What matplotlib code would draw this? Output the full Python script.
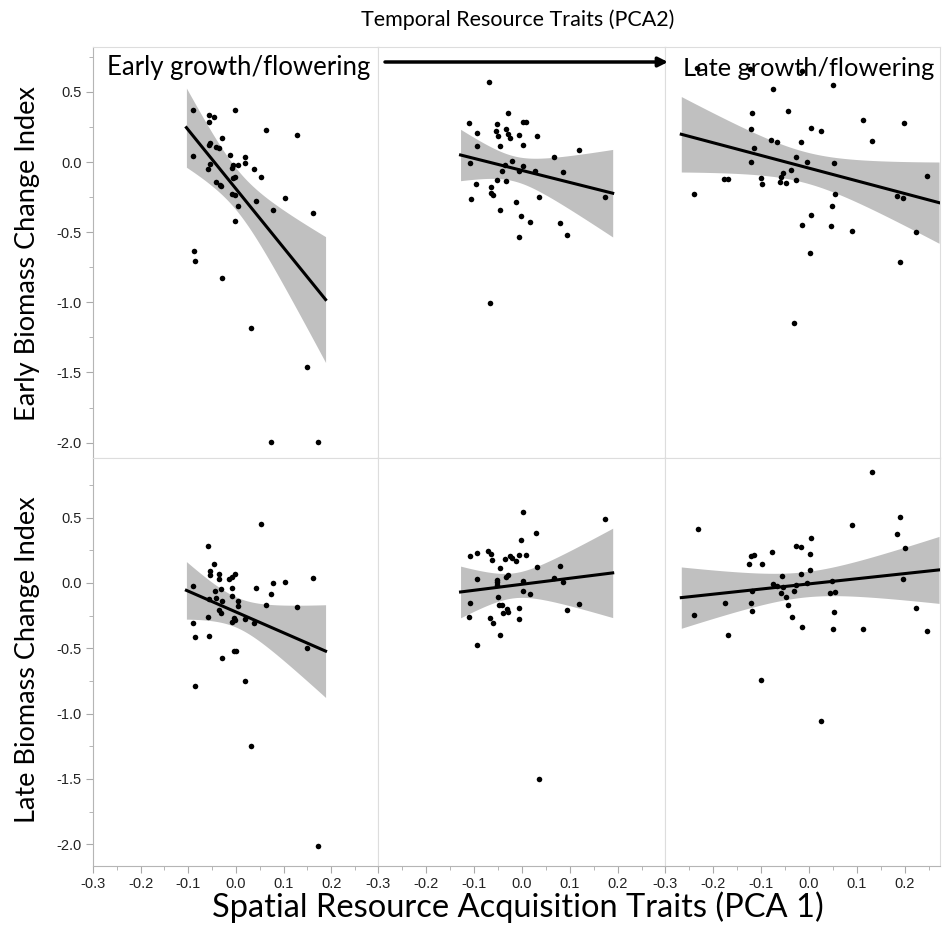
import numpy as np
import matplotlib.pyplot as plt
from matplotlib.ticker import MultipleLocator

plt.rcParams['axes.unicode_minus'] = False

# Early biomass change index vs PCA1, one list per PCA2 group (columns)
early_x1 = [-0.090, -0.057, -0.047, -0.056, -0.001, -0.034, 0.063, 0.127, -0.029, -0.090,
            -0.056, -0.054, -0.041, -0.036, -0.013, 0.018, 0.018, 0.005, -0.006, -0.009,
            -0.054, -0.059, 0.037, 0.053, -0.003, -0.006, -0.042, -0.034, -0.031, -0.009,
            -0.003, 0.005, 0.042, 0.103, 0.078, 0.161, -0.001, -0.088, -0.085, -0.029,
            0.031, 0.148, 0.073, 0.173]
early_y1 = [0.374, 0.336, 0.324, 0.288, 0.369, 0.648, 0.226, 0.191, 0.174, 0.041,
            0.121, 0.134, 0.109, 0.100, 0.050, 0.038, -0.007, -0.021, -0.021, -0.045,
            -0.014, -0.048, -0.048, -0.105, -0.105, -0.117, -0.141, -0.162, -0.169, -0.226,
            -0.238, -0.317, -0.276, -0.257, -0.345, -0.362, -0.417, -0.636, -0.707, -0.824,
            -1.186, -1.464, -1.995, -1.995]

early_x2 = [-0.069, -0.029, -0.111, -0.052, 0.003, 0.008, -0.094, -0.054, -0.033, -0.050,
            -0.030, -0.026, -0.006, 0.031, -0.094, -0.045, 0.003, 0.119, 0.067, -0.109,
            -0.020, -0.035, 0.002, -0.041, -0.006, 0.028, 0.085, -0.052, -0.033, -0.095,
            -0.065, -0.064, -0.060, -0.107, 0.036, 0.172, -0.013, -0.046, -0.002, 0.017,
            0.080, 0.093, -0.006, -0.066]
early_y2 = [0.567, 0.348, 0.281, 0.269, 0.286, 0.286, 0.207, 0.221, 0.236, 0.188,
            0.200, 0.174, 0.191, 0.184, 0.112, 0.117, 0.121, 0.088, 0.038, -0.009,
            0.005, -0.019, -0.029, -0.066, -0.066, -0.066, -0.074, -0.129, -0.138, -0.159,
            -0.181, -0.224, -0.234, -0.267, -0.248, -0.250, -0.286, -0.345, -0.383, -0.431,
            -0.434, -0.519, -0.531, -1.005]

early_x3 = [-0.233, -0.122, -0.015, -0.075, 0.050, -0.119, -0.044, 0.113, 0.199, -0.120,
            0.004, 0.026, -0.079, -0.067, -0.016, 0.133, -0.114, -0.027, -0.120, -0.004,
            0.052, -0.036, 0.246, -0.177, -0.168, -0.100, -0.097, -0.054, -0.057, -0.059,
            -0.048, -0.027, -0.239, 0.055, 0.185, 0.196, 0.049, 0.004, -0.013, 0.046,
            0.090, 0.223, 0.002, 0.191, -0.031]
early_y3 = [0.669, 0.664, 0.648, 0.521, 0.550, 0.348, 0.362, 0.298, 0.281, 0.236,
            0.243, 0.219, 0.159, 0.143, 0.141, 0.148, 0.100, 0.034, 0.002, 0.000,
            -0.007, -0.055, -0.100, -0.121, -0.121, -0.116, -0.157, -0.079, -0.105, -0.141,
            -0.152, -0.129, -0.231, -0.231, -0.245, -0.255, -0.314, -0.379, -0.448, -0.459,
            -0.491, -0.500, -0.650, -0.714, -1.150]

# Late biomass change index vs PCA1
late_x1 = [0.053, -0.059, -0.047, -0.055, -0.054, -0.035, -0.036, -0.014, -0.008, -0.001,
           -0.090, -0.031, -0.043, -0.008, 0.041, 0.078, 0.103, 0.161, 0.073, -0.008,
           -0.057, -0.041, -0.029, 0.004, 0.005, 0.063, 0.127, -0.036, -0.031, -0.058,
           -0.004, -0.008, -0.001, 0.019, 0.037, -0.090, -0.087, -0.056, 0.149, -0.005,
           0.001, -0.029, 0.018, -0.085, 0.032, 0.173]
late_y1 = [0.454, 0.283, 0.145, 0.090, 0.064, 0.067, 0.031, 0.028, 0.048, 0.071,
           -0.025, -0.044, -0.059, -0.041, -0.038, 0.002, 0.008, 0.036, -0.084, -0.097,
           -0.120, -0.115, -0.138, -0.138, -0.176, -0.166, -0.181, -0.207, -0.227, -0.260,
           -0.270, -0.301, -0.286, -0.273, -0.304, -0.306, -0.416, -0.406, -0.500, -0.523,
           -0.523, -0.572, -0.753, -0.786, -1.246, -2.011]

late_x2 = [0.003, 0.172, 0.029, -0.001, -0.109, -0.094, -0.070, -0.065, -0.063, -0.035,
           -0.026, -0.020, -0.013, -0.006, 0.008, -0.045, 0.031, 0.079, -0.030, -0.034,
           -0.094, -0.052, -0.052, -0.052, 0.002, 0.067, 0.085, 0.003, 0.017, -0.051,
           -0.108, -0.047, -0.042, -0.006, 0.119, 0.093, -0.032, -0.040, -0.029, -0.111,
           -0.066, -0.006, -0.060, -0.046, -0.094, 0.036]
late_y2 = [0.546, 0.492, 0.385, 0.327, 0.207, 0.232, 0.245, 0.222, 0.174, 0.181,
           0.207, 0.189, 0.166, 0.217, 0.217, 0.112, 0.125, 0.128, 0.059, 0.046,
           0.033, 0.023, 0.005, -0.015, 0.015, 0.041, 0.005, -0.059, -0.087, -0.110,
           -0.151, -0.166, -0.166, -0.194, -0.159, -0.207, -0.201, -0.227, -0.222, -0.258,
           -0.266, -0.276, -0.306, -0.398, -0.477, -1.501]

late_x3 = [0.133, -0.231, 0.090, 0.191, 0.185, 0.200, 0.004, -0.027, -0.016, 0.003,
           -0.077, -0.120, -0.114, -0.124, -0.097, 0.002, -0.016, -0.056, 0.197, -0.075,
           -0.067, -0.054, -0.026, -0.004, 0.049, -0.118, -0.058, -0.048, -0.031, 0.045,
           0.055, -0.175, -0.120, -0.119, -0.044, -0.239, -0.035, 0.052, 0.223, -0.169,
           -0.013, 0.050, 0.113, 0.246, -0.099, 0.026]
late_y3 = [0.850, 0.411, 0.447, 0.505, 0.377, 0.270, 0.342, 0.283, 0.273, 0.224,
           0.240, 0.209, 0.212, 0.145, 0.148, 0.097, 0.071, 0.056, 0.031, -0.010,
           -0.021, -0.033, -0.015, 0.000, 0.018, -0.059, -0.079, -0.105, -0.061, -0.079,
           -0.069, -0.153, -0.156, -0.212, -0.166, -0.243, -0.258, -0.222, -0.194, -0.401,
           -0.337, -0.355, -0.350, -0.365, -0.740, -1.054]

# x span of the fitted lines in each column (PCA1 range)
fit_range = [(-0.104, 0.188), (-0.128, 0.189), (-0.266, 0.272)]

xs = [[early_x1, early_x2, early_x3], [late_x1, late_x2, late_x3]]
ys = [[early_y1, early_y2, early_y3], [late_y1, late_y2, late_y3]]

W, H = 945, 936
fig = plt.figure(figsize=(W / 100, H / 100), dpi=100)

col_px = [(93, 378), (378, 665), (665, 940)]
row_px = [(47, 458), (458, 866)]
xlims = [(-0.3, 0.298), (-0.3, 0.298), (-0.3, 0.274)]
ylims = [(-2.11, 0.82), (-2.167, 0.957)]
t_val = 2.017

for r in range(2):
    for c in range(3):
        x0, x1 = col_px[c]
        y0, y1 = row_px[r]
        ax = fig.add_axes([x0 / W, 1 - y1 / H, (x1 - x0) / W, (y1 - y0) / H])
        x = np.array(xs[r][c])
        y = np.array(ys[r][c])
        n = len(x)
        b, a = np.polyfit(x, y, 1)
        s = np.sqrt(np.sum((y - (a + b * x)) ** 2) / (n - 2))
        xx = np.linspace(fit_range[c][0], fit_range[c][1], 200)
        yy = a + b * xx
        se = s * np.sqrt(1 / n + (xx - x.mean()) ** 2 / np.sum((x - x.mean()) ** 2))
        ax.fill_between(xx, yy - t_val * se, yy + t_val * se, color='#c0c0c0', lw=0, zorder=1)
        ax.plot(xx, yy, color='black', lw=2.2, zorder=3)
        ax.scatter(x, y, s=16, color='black', lw=0, zorder=4)

        ax.set_xlim(*xlims[c])
        ax.set_ylim(*ylims[r])
        for sp in ax.spines.values():
            sp.set_color('#dddddd')
            sp.set_linewidth(0.8)
        ax.xaxis.set_major_locator(MultipleLocator(0.1))
        ax.xaxis.set_minor_locator(MultipleLocator(0.05))
        ax.yaxis.set_major_locator(MultipleLocator(0.5))
        ax.yaxis.set_minor_locator(MultipleLocator(0.25))
        ax.tick_params(which='both', direction='out', color='#aaaaaa', labelsize=10.5,
                       labelcolor='#222222')
        ax.tick_params(which='major', length=5, width=0.8, pad=3)
        ax.tick_params(which='minor', length=3, width=0.6)
        if r == 1:
            ax.set_xticks([-0.3, -0.2, -0.1, 0.0, 0.1, 0.2])
            ax.set_xticklabels(['-0.3', '-0.2', '-0.1', '0.0', '0.1', '0.2'], family='Liberation Sans')
            ax.spines['bottom'].set_color('#b5b5b5')
        else:
            ax.tick_params(which='both', bottom=False, labelbottom=False)
        if c == 0:
            ax.set_yticks([0.5, 0.0, -0.5, -1.0, -1.5, -2.0])
            ax.set_yticklabels(['0.5', '0.0', '-0.5', '-1.0', '-1.5', '-2.0'], family='Liberation Sans')
            ax.spines['left'].set_color('#b5b5b5')
        else:
            ax.tick_params(which='both', left=False, labelleft=False)

fig.text(518 / W, 1 - 20 / H, 'Temporal Resource Traits (PCA2)', ha='center', va='center',
         fontsize=15.5, family='Lato')
fig.text(28 / W, 1 - 254 / H, 'Early Biomass Change Index', ha='center', va='center',
         rotation=90, fontsize=19.5, family='Lato')
fig.text(28 / W, 1 - 660 / H, 'Late Biomass Change Index', ha='center', va='center',
         rotation=90, fontsize=19.5, family='Lato')
fig.text(518 / W, 1 - 907 / H, 'Spatial Resource Acquisition Traits (PCA 1)', ha='center',
         va='center', fontsize=23.5, family='Lato')
fig.text(107 / W, 1 - 68 / H, 'Early growth/flowering', ha='left', va='center',
         fontsize=18.5, family='Lato')
fig.text(683 / W, 1 - 68 / H, 'Late growth/flowering', ha='left', va='center',
         fontsize=18.3, family='Lato')
fig.add_artist(plt.Annotation('', xy=(668 / W, 1 - 62 / H), xytext=(385 / W, 1 - 62 / H),
                              xycoords='figure fraction', textcoords='figure fraction',
                              arrowprops=dict(arrowstyle='-|>', lw=2.5, color='black',
                                              mutation_scale=14, shrinkA=0, shrinkB=0)))

fig.savefig('out.png', dpi=100)
